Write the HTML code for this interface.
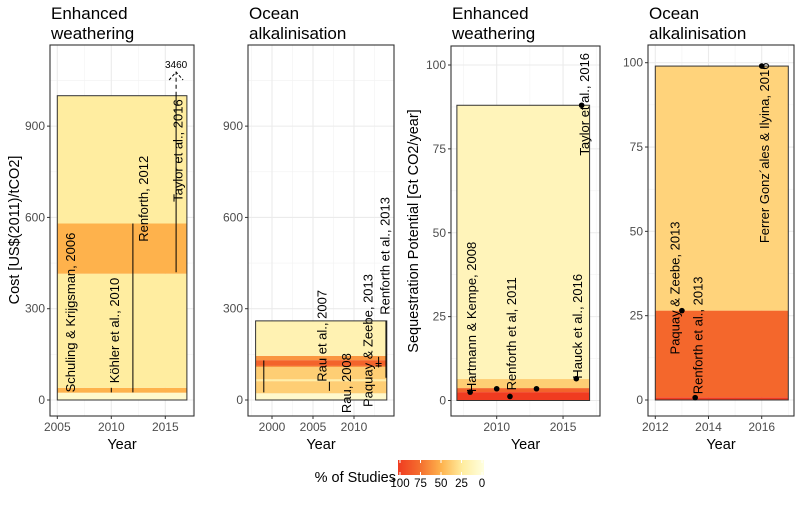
<!DOCTYPE html>
<html><head><meta charset="utf-8"><style>
body{margin:0;background:#fff;}
svg text{font-family:"Liberation Sans",Arial,sans-serif;}
</style></head><body>
<svg id="c" width="800" height="500" xmlns="http://www.w3.org/2000/svg"></svg>
<script>
// ---- data ----
// Panel 1: Enhanced weathering cost
const p1BandLo = [0, 24, 40, 415, 580];
const p1BandHi = [24, 40, 415, 580, 1000];
const p1BandPct = [8, 50, 25, 50, 25];
const p1LineYear = [2010, 2012, 2016];
const p1LineLo = [25, 25, 420];
const p1LineHi = [40, 580, 1050];
const p1Labels = ["Schuling & Krijgsman, 2006", "Köhler et al., 2010", "Renforth, 2012", "Taylor et al., 2016"];
const p1LabelYear = [2006.2, 2010.3, 2013.0, 2016.2];
const p1LabelVal = [25, 55, 520, 651];
// Panel 2: Ocean alkalinisation cost
const p2BandLo = [0, 22, 62, 68, 108, 112, 131, 145];
const p2BandHi = [22, 62, 68, 108, 112, 131, 145, 260];
const p2BandPct = [8, 38, 22, 38, 60, 80, 60, 18];
const p2LineYear = [1999, 2007, 2013, 2013.9];
const p2LineLo = [25, 30, 107, 73];
const p2LineHi = [130, 60, 142, 260];
const p2Labels = ["Rau et al., 2007", "Rau, 2008", "Paquay & Zeebe, 2013", "Renforth et al., 2013"];
const p2LabelYear = [2006.1, 2009.1, 2011.7, 2013.8];
const p2LabelVal = [60, -43, -23, 280];
// Panel 3: Enhanced weathering potential
const p3BandLo = [0, 2.5, 3.7, 6.4];
const p3BandHi = [2.5, 3.7, 6.4, 88];
const p3BandPct = [100, 80, 38, 15];
const p3PtYear = [2008, 2010, 2011, 2013, 2016, 2016.4];
const p3PtVal = [2.5, 3.5, 1.2, 3.5, 6.5, 88];
const p3Labels = ["Hartmann & Kempe, 2008", "Renforth et al, 2011", "Hauck et al., 2016", "Taylor et al., 2016"];
const p3LabelYear = [2008.1, 2011.1, 2016.1, 2016.6];
const p3LabelVal = [2.5, 3, 6.5, 73];
// Panel 4: Ocean alkalinisation potential
const p4BandLo = [0, 0.8, 26.5];
const p4BandHi = [0.8, 26.5, 99];
const p4BandPct = [100, 78, 36];
const p4PtYear = [2013, 2013.5, 2016];
const p4PtVal = [26.5, 0.7, 99];
const p4Labels = ["Paquay & Zeebe, 2013", "Renforth et al., 2013", "Ferrer Gonz´ales & Ilyina, 2016"];
const p4LabelYear = [2012.75, 2013.6, 2016.1];
const p4LabelVal = [13.5, 1.7, 46.5];
const legendTicks = [100, 75, 50, 25, 0];

const NS = "http://www.w3.org/2000/svg";
const svg = document.getElementById("c");
function el(tag, attrs, parent, txt){
  const e = document.createElementNS(NS, tag);
  for (const k in attrs) e.setAttribute(k, attrs[k]);
  if (txt !== undefined) e.textContent = txt;
  (parent || svg).appendChild(e);
  return e;
}
const stops = [[0,[255,255,224]],[25,[255,237,160]],[50,[254,178,76]],[75,[244,109,46]],[100,[240,59,32]]];
function col(p){
  for (let i=0;i<stops.length-1;i++){
    const a=stops[i], b=stops[i+1];
    if (p>=a[0] && p<=b[0]){
      const t=(p-a[0])/(b[0]-a[0]);
      return "rgb("+a[1].map((v,j)=>Math.round(v+(b[1][j]-v)*t)).join(",")+")";
    }
  }
  return "rgb(240,59,32)";
}

function panel(cfg){
  const g = el("g", {});
  
  
  const sx = y => cfg.x0 + (y - cfg.xr) * cfg.xs;
  const sy = v => cfg.y0 - v * cfg.ys;
  const L=cfg.L, R=cfg.R, T=cfg.T, B=416;
  // grid
  cfg.xMinor.forEach(v=>{ if(sx(v)>L&&sx(v)<R) el("line",{x1:sx(v),x2:sx(v),y1:T,y2:B,stroke:"#F2F2F2","stroke-width":0.6},g); });
  cfg.yMinor.forEach(v=>{ if(sy(v)>T&&sy(v)<B) el("line",{x1:L,x2:R,y1:sy(v),y2:sy(v),stroke:"#F2F2F2","stroke-width":0.6},g); });
  cfg.xMajor.forEach(v=>{ el("line",{x1:sx(v),x2:sx(v),y1:T,y2:B,stroke:"#EBEBEB","stroke-width":1.1},g); });
  cfg.yMajor.forEach(v=>{ el("line",{x1:L,x2:R,y1:sy(v),y2:sy(v),stroke:"#EBEBEB","stroke-width":1.1},g); });
  // bands
  for (let i=0;i<cfg.bLo.length;i++){
    const r = el("rect",{x:sx(cfg.rx0),width:sx(cfg.rx1)-sx(cfg.rx0),y:sy(cfg.bHi[i]),height:sy(cfg.bLo[i])-sy(cfg.bHi[i]),fill:col(cfg.bPct[i])},g);
    
    
  }
  const top = cfg.bHi[cfg.bHi.length-1];
  el("rect",{x:sx(cfg.rx0),width:sx(cfg.rx1)-sx(cfg.rx0),y:sy(top),height:sy(0)-sy(top),fill:"none",stroke:"#333","stroke-width":1},g);
  // lines
  if (cfg.lY) for (let i=0;i<cfg.lY.length;i++){
    const ln = el("line",{x1:sx(cfg.lY[i]),x2:sx(cfg.lY[i]),y1:sy(cfg.lLo[i]),y2:sy(Math.min(cfg.lHi[i],cfg.clip||1e9)),stroke:"#000","stroke-width":1},g);
    
    
  }
  if (cfg.pY) for (let i=0;i<cfg.pY.length;i++){
    const c = el("circle",{cx:sx(cfg.pY[i]),cy:sy(cfg.pV[i]),r:2.8,fill:"#000"},g);
    
    
  }
  // labels
  for (let i=0;i<cfg.labs.length;i++){
    const x=sx(cfg.labY[i]), y=sy(cfg.labV[i]);
    const t = el("text",{x:x,y:y,transform:"rotate(-90 "+x+" "+y+")","font-size":13,fill:"#000","dominant-baseline":"central"},g,cfg.labs[i]);
    
    
  }
  // border
  el("rect",{x:L,y:T,width:R-L,height:B-T,fill:"none",stroke:"#333","stroke-width":1.1},g);
  // ticks
  cfg.xMajor.forEach(v=>{
    el("line",{x1:sx(v),x2:sx(v),y1:B,y2:B+3,stroke:"#333"},g);
    const t=el("text",{x:sx(v),y:B+15,"text-anchor":"middle","font-size":12,fill:"#4D4D4D"},g,String(v));
     
  });
  cfg.yMajor.forEach(v=>{
    el("line",{x1:L-3,x2:L,y1:sy(v),y2:sy(v),stroke:"#333"},g);
    const t=el("text",{x:L-5,y:sy(v)+4,"text-anchor":"end","font-size":12,fill:"#4D4D4D"},g,String(v));
     
  });
  const xt = el("text",{x:(L+R)/2,y:449,"text-anchor":"middle","font-size":14.5,fill:"#000"},g,"Year");
   
  const t1 = el("text",{x:L+1,y:19,"font-size":17,fill:"#000"},g,cfg.title[0]);
   
  el("text",{x:L+1,y:39,"font-size":17,fill:"#000"},g,cfg.title[1]);
  return {sx,sy,g};
}

const P1 = panel({name:"panel-ew-cost",L:50,R:194,T:45,x0:57.3,xr:2005,xs:10.8,y0:400,ys:0.3043,
  xMajor:[2005,2010,2015],xMinor:[2007.5,2012.5,2017.5],yMajor:[0,300,600,900],yMinor:[150,450,750,1050],
  rx0:2005,rx1:2017,bLo:p1BandLo,bHi:p1BandHi,bPct:p1BandPct,lY:p1LineYear,lLo:p1LineLo,lHi:p1LineHi,clip:1000,
  labs:p1Labels,labY:p1LabelYear,labV:p1LabelVal,title:["Enhanced","weathering"]});
// off-scale arrow for Taylor
{
  const x=P1.sx(2016), yb=P1.sy(1000), yt=72;
  el("line",{x1:x,x2:x,y1:yb,y2:yt,stroke:"#000","stroke-dasharray":"4,3"},P1.g);
  el("polyline",{points:(x-7)+","+(yt+8)+" "+x+","+yt+" "+(x+7)+","+(yt+8),fill:"none",stroke:"#000","stroke-dasharray":"3,2"},P1.g);
  const t=el("text",{x:x,y:68,"text-anchor":"middle","font-size":10,fill:"#000"},P1.g,"3460");
   
}
const yl1=el("text",{x:0,y:0,transform:"translate(19 230) rotate(-90)","text-anchor":"middle","font-size":14.5,fill:"#000"},svg,"Cost [US$(2011)/tCO2]");
 

const P2 = panel({name:"panel-oa-cost",L:248,R:394,T:45,x0:272,xr:2000,xs:8.2,y0:400,ys:0.3043,
  xMajor:[2000,2005,2010],xMinor:[1997.5,2002.5,2007.5,2012.5],yMajor:[0,300,600,900],yMinor:[150,450,750,1050],
  rx0:1998,rx1:2014,bLo:p2BandLo,bHi:p2BandHi,bPct:p2BandPct,lY:p2LineYear,lLo:p2LineLo,lHi:p2LineHi,
  labs:p2Labels,labY:p2LabelYear,labV:p2LabelVal,title:["Ocean","alkalinisation"]});
{
  const x=P2.sx(2013);
  el("line",{x1:x-3,x2:x+3,y1:P2.sy(120),y2:P2.sy(120),stroke:"#000"},P2.g);
  el("line",{x1:x-3,x2:x+3,y1:P2.sy(112),y2:P2.sy(112),stroke:"#000"},P2.g);
}

const P3 = panel({name:"panel-ew-potential",L:451,R:600,T:46,x0:496.7,xr:2010,xs:13.27,y0:400.5,ys:3.355,
  xMajor:[2010,2015],xMinor:[2007.5,2012.5,2017.5],yMajor:[0,25,50,75,100],yMinor:[12.5,37.5,62.5,87.5],
  rx0:2007,rx1:2017,bLo:p3BandLo,bHi:p3BandHi,bPct:p3BandPct,pY:p3PtYear,pV:p3PtVal,
  labs:p3Labels,labY:p3LabelYear,labV:p3LabelVal,title:["Enhanced","weathering"]});
const yl3=el("text",{x:0,y:0,transform:"translate(418 231) rotate(-90)","text-anchor":"middle","font-size":14.5,fill:"#000"},svg,"Sequestration Potential [Gt CO2/year]");
 

const P4 = panel({name:"panel-oa-potential",L:648,R:794,T:45,x0:655.3,xr:2012,xs:26.6,y0:400,ys:3.373,
  xMajor:[2012,2014,2016],xMinor:[2013,2015,2017],yMajor:[0,25,50,75,100],yMinor:[12.5,37.5,62.5,87.5],
  rx0:2012,rx1:2017,bLo:p4BandLo,bHi:p4BandHi,bPct:p4BandPct,pY:p4PtYear,pV:p4PtVal,
  labs:p4Labels,labY:p4LabelYear,labV:p4LabelVal,title:["Ocean","alkalinisation"]});

// legend
const lg = el("g",{});
 
const defs = el("defs",{},lg);
const grad = el("linearGradient",{id:"lgr",x1:"0",x2:"1",y1:"0",y2:"0"},defs);
[100,75,50,25,0].forEach((p,i)=>el("stop",{offset:(i*25)+"%","stop-color":col(p)},grad));
const LX0=398, LX1=484;
el("rect",{x:LX0,y:460,width:LX1-LX0,height:15,fill:"url(#lgr)"},lg);
const lsx = p => LX1-2 - p/100*(LX1-2-400);
legendTicks.forEach(p=>{
  el("line",{x1:lsx(p),x2:lsx(p),y1:460,y2:463,stroke:"#fff"},lg);
  el("line",{x1:lsx(p),x2:lsx(p),y1:472,y2:475,stroke:"#fff"},lg);
  const t=el("text",{x:lsx(p),y:487,"text-anchor":"middle","font-size":11.5,fill:"#000"},lg,String(p));
   
});
const lt=el("text",{x:396,y:482,"text-anchor":"end","font-size":14.5,fill:"#000"},lg,"% of Studies");
 
</script>
</body></html>
